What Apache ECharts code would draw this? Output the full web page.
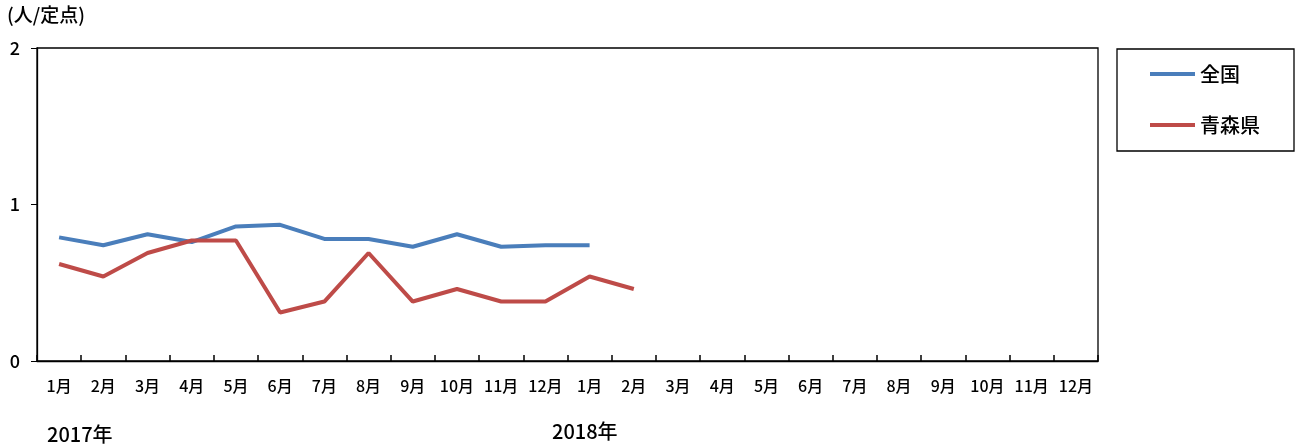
<!DOCTYPE html>
<html>
<head>
<meta charset="utf-8">
<script src="https://cdn.jsdelivr.net/npm/echarts@6/dist/echarts.min.js"></script>
<style>
html,body{margin:0;padding:0;background:#fff;}
#chart{width:1307px;height:448px;}
</style>
</head>
<body>
<div id="chart"></div>
<script>
const categories = ['1月','2月','3月','4月','5月','6月','7月','8月','9月','10月','11月','12月',
                    '1月','2月','3月','4月','5月','6月','7月','8月','9月','10月','11月','12月'];
const yearLabels = ['2017年','2018年'];
const seriesNames = ['全国','青森県'];
const nationalValues = [0.79,0.74,0.81,0.76,0.86,0.87,0.78,0.78,0.73,0.81,0.73,0.74,0.74,
                        null,null,null,null,null,null,null,null,null,null,null];
const aomoriValues = [0.62,0.54,0.69,0.77,0.77,0.31,0.38,0.69,0.38,0.46,0.38,0.38,0.54,0.46,
                      null,null,null,null,null,null,null,null,null,null];
const yTicks = {min:0, max:2, interval:1};
const unitLabel = '(人/定点)';

const FONT = '"Noto Sans CJK JP", "Noto Sans", sans-serif';
const chart = echarts.init(document.getElementById('chart'));
chart.setOption({
  animation:false,
  backgroundColor:'#fff',
  grid:{left:37,right:209,top:48,bottom:87,show:true,borderColor:'#000',borderWidth:1.3,backgroundColor:'transparent'},
  legend:{
    orient:'vertical',left:1117,top:49,
    data:seriesNames,
    icon:'rect',itemWidth:45,itemHeight:4,itemGap:31,
    padding:[15,34,16,33],
    borderColor:'#000',borderWidth:1.3,
    textStyle:{fontFamily:FONT,fontSize:20,color:'#000',fontWeight:500}
  },
  xAxis:{
    type:'category',data:categories,boundaryGap:true,
    axisLine:{lineStyle:{color:'#000',width:1.3}},
    axisTick:{show:true,inside:true,length:6,interval:0,lineStyle:{color:'#000',width:1.5}},
    axisLabel:{interval:0,margin:17,fontFamily:FONT,fontSize:16,color:'#000',fontWeight:500},
    splitLine:{show:false}
  },
  yAxis:{
    type:'value',min:yTicks.min,max:yTicks.max,interval:yTicks.interval,
    axisLine:{show:true,lineStyle:{color:'#000',width:1.3}},
    axisTick:{show:true,length:6,lineStyle:{color:'#000'}},
    axisLabel:{margin:17,fontFamily:FONT,fontSize:18,color:'#000',align:'right',fontWeight:500},
    splitLine:{show:false}
  },
  graphic:[
    {type:'text',left:7,top:5,style:{text:unitLabel,font:'500 19px '+FONT,fill:'#000'}},
    {type:'text',left:47,top:424,style:{text:yearLabels[0],font:'500 20px '+FONT,fill:'#000'}},
    {type:'text',left:552,top:421,style:{text:yearLabels[1],font:'500 20px '+FONT,fill:'#000'}}
  ],
  series:[
    {name:seriesNames[0],type:'line',data:nationalValues,symbol:'none',connectNulls:false,
     lineStyle:{color:'#4A7EBB',width:4},itemStyle:{color:'#4A7EBB'}},
    {name:seriesNames[1],type:'line',data:aomoriValues,symbol:'none',connectNulls:false,
     lineStyle:{color:'#BE4B48',width:4},itemStyle:{color:'#BE4B48'}}
  ]
});
</script>
</body>
</html>
